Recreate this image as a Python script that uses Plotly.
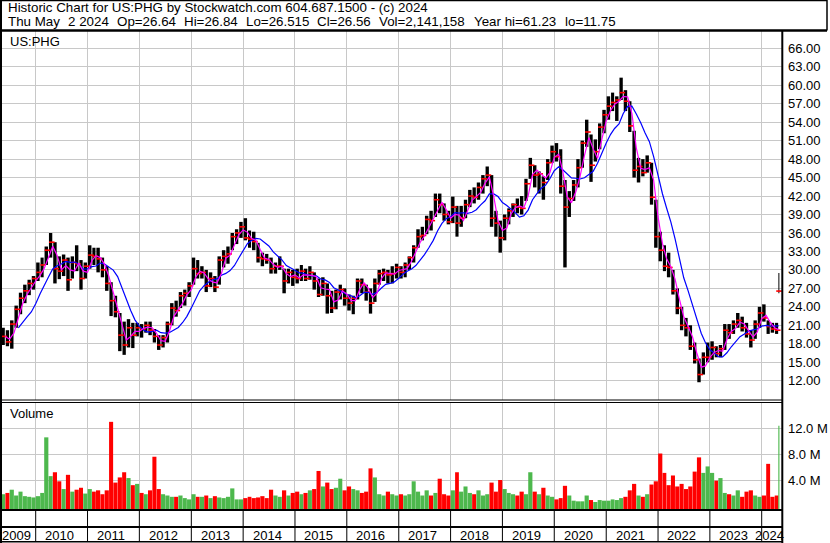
import pandas as pd
import plotly.graph_objects as go

# ---------------- data (monthly, May 2009 .. Apr 2024, plus the final Apr 29 - May 2 2024 gap) ----------------
high = [
    20.6, 20.2, 21.8, 24.2, 26.3, 27.6, 28.4, 29.0,                          # 2009 May-Dec
    31.2, 32.0, 33.8, 36.0, 34.5, 32.2, 32.5, 32.0, 32.2, 34.0, 31.6, 31.2,  # 2010
    34.0, 33.6, 33.6, 32.0, 30.6, 28.0, 25.8, 23.0, 21.6, 22.0, 21.4, 21.4,  # 2011
    21.2, 21.6, 21.6, 20.4, 19.4, 19.4, 21.6, 24.6, 25.0, 26.4, 26.8, 28.0,  # 2012
    32.0, 31.6, 30.6, 30.0, 29.6, 29.0, 32.2, 33.2, 33.8, 36.0, 36.6, 37.8,  # 2013
    38.4, 36.4, 36.2, 34.4, 32.8, 32.6, 32.0, 31.2, 32.2, 30.2, 30.2, 30.0,  # 2014
    30.2, 30.8, 30.2, 30.6, 29.6, 28.6, 28.8, 27.8, 26.6, 26.8, 27.6, 27.0,  # 2015
    26.0, 25.8, 28.6, 28.6, 27.6, 27.0, 28.6, 30.0, 30.2, 30.0, 30.6, 31.0,  # 2016
    30.6, 31.2, 32.2, 34.0, 36.6, 37.0, 38.8, 39.6, 42.4, 42.4, 40.8, 39.6,  # 2017
    41.9, 40.4, 40.4, 41.4, 43.0, 43.4, 44.2, 45.4, 46.8, 45.4, 39.6, 38.0,  # 2018
    39.0, 40.0, 40.8, 41.6, 42.0, 44.8, 48.2, 47.0, 46.0, 45.2, 48.0, 50.2,  # 2019
    50.6, 49.6, 44.6, 42.8, 44.6, 48.0, 51.0, 54.4, 52.0, 51.2, 53.8, 56.0,  # 2020
    58.2, 58.8, 58.2, 61.23, 59.2, 57.4, 52.6, 48.2, 48.0, 48.6, 47.4, 41.4, # 2021
    36.2, 34.0, 32.8, 30.0, 27.0, 24.0, 22.2, 21.0, 18.2, 15.6, 16.6, 18.2,  # 2022
    18.4, 17.6, 17.8, 21.2, 21.2, 21.8, 23.0, 22.4, 21.4, 20.2, 21.8, 24.0,  # 2023
    24.4, 21.8, 21.4, 21.4, 29.5,                                            # 2024
]
low = [
    17.8, 17.6, 17.2, 20.6, 22.8, 24.6, 25.9, 26.8,
    28.2, 28.8, 30.8, 32.0, 27.8, 28.5, 29.0, 26.6, 28.6, 29.8, 26.8, 28.6,
    30.2, 30.8, 29.6, 28.8, 26.6, 22.5, 22.3, 16.8, 16.2, 17.4, 17.3, 19.2,
    19.0, 19.8, 19.4, 18.2, 17.0, 17.4, 18.2, 21.0, 22.4, 23.8, 24.2, 25.6,
    27.6, 28.6, 28.6, 26.4, 27.2, 26.4, 27.6, 30.4, 31.0, 33.2, 34.2, 35.2,
    34.8, 33.6, 33.2, 31.2, 30.6, 31.0, 29.4, 29.4, 30.0, 26.2, 27.8, 27.4,
    27.8, 28.2, 28.2, 28.4, 26.8, 25.6, 25.8, 22.9, 23.0, 23.6, 25.2, 24.2,
    23.4, 22.8, 25.2, 26.2, 25.0, 22.9, 24.8, 27.6, 28.2, 27.8, 27.8, 28.6,
    28.6, 28.8, 30.0, 31.2, 33.6, 34.8, 35.8, 36.4, 38.6, 39.2, 38.0, 37.4,
    37.6, 35.4, 37.0, 38.4, 40.2, 40.8, 41.4, 42.4, 43.6, 37.0, 35.4, 32.8,
    34.8, 37.4, 38.6, 39.2, 39.0, 41.2, 44.8, 43.4, 42.4, 41.4, 44.6, 47.4,
    47.6, 42.4, 30.4, 38.6, 41.2, 43.4, 46.6, 50.0, 44.3, 47.6, 49.6, 52.2,
    54.4, 55.8, 54.2, 57.6, 55.8, 52.4, 45.0, 44.2, 45.2, 45.8, 40.6, 33.6,
    31.4, 29.8, 28.8, 26.0, 22.8, 20.2, 19.2, 17.0, 14.8, 11.75, 13.0, 15.0,
    15.4, 15.8, 15.8, 17.0, 18.8, 19.6, 20.6, 20.0, 19.0, 17.4, 18.8, 20.6,
    21.6, 19.6, 19.8, 19.6, 26.2,
]
close = [
    19.2, 18.3, 21.2, 23.6, 25.4, 26.6, 27.8, 28.6,
    29.6, 30.8, 33.2, 34.5, 30.2, 29.8, 31.6, 28.4, 31.2, 31.0, 28.6, 30.6,
    32.4, 32.2, 31.8, 30.0, 27.8, 25.0, 23.2, 19.4, 17.8, 20.6, 19.4, 20.6,
    20.4, 21.0, 20.2, 19.2, 17.8, 19.0, 21.2, 23.8, 23.4, 25.8, 26.2, 27.4,
    30.2, 29.4, 29.6, 27.4, 28.6, 27.2, 31.6, 32.2, 32.6, 35.4, 36.0, 37.0,
    35.2, 35.0, 34.6, 32.0, 31.8, 31.6, 30.2, 30.6, 30.6, 28.2, 29.6, 28.8,
    28.6, 29.8, 28.6, 29.6, 28.2, 26.0, 27.8, 25.8, 23.8, 26.4, 26.8, 25.4,
    24.6, 25.4, 28.2, 27.6, 26.4, 24.6, 27.8, 29.4, 29.6, 29.2, 29.4, 30.4,
    29.6, 30.8, 32.0, 33.6, 35.4, 35.6, 38.2, 38.0, 41.4, 40.6, 39.0, 37.8,
    40.2, 37.6, 38.4, 40.6, 42.0, 41.8, 43.4, 44.8, 45.4, 38.4, 37.6, 35.2,
    38.4, 39.6, 40.6, 40.2, 40.0, 44.0, 47.0, 45.4, 45.6, 44.2, 47.4, 49.2,
    48.4, 43.6, 40.2, 41.6, 43.8, 46.6, 50.6, 52.4, 47.0, 49.2, 53.2, 55.2,
    56.6, 57.2, 57.6, 58.8, 57.4, 53.4, 46.2, 46.8, 45.8, 47.4, 41.8, 35.4,
    33.2, 30.6, 30.4, 26.6, 23.8, 21.0, 20.6, 17.6, 15.4, 13.0, 15.8, 15.8,
    17.4, 16.4, 17.2, 20.2, 19.8, 21.2, 21.8, 20.6, 19.6, 18.6, 21.2, 23.0,
    22.2, 20.8, 20.4, 20.2, 26.56,
]
volume_m = [
    1.8, 2.0, 2.5, 1.6, 2.2, 1.5, 1.4, 1.3,
    1.5, 2.0, 10.6, 4.6, 5.2, 3.8, 2.6, 4.8, 2.2, 2.5, 2.8, 1.9,
    2.6, 2.2, 2.4, 1.8, 2.4, 13.0, 3.6, 4.4, 5.2, 4.3, 3.2, 3.4,
    2.0, 1.8, 2.4, 7.6, 2.6, 1.8, 1.6, 1.4, 1.4, 1.6, 1.2, 1.0,
    1.8, 1.4, 1.4, 1.6, 1.2, 1.5, 1.3, 1.2, 1.4, 2.7, 1.0, 1.0,
    1.2, 1.4, 1.2, 1.3, 1.5, 1.2, 2.5, 1.6, 1.4, 2.4, 1.6, 2.0,
    2.2, 1.8, 2.0, 2.4, 2.6, 5.4, 3.0, 3.6, 2.6, 2.8, 4.2, 2.4,
    3.0, 2.6, 2.4, 2.0, 2.2, 5.8, 4.4, 1.8, 1.6, 2.2, 1.8, 1.6,
    1.8, 1.6, 1.8, 3.8, 2.2, 1.6, 2.4, 1.6, 2.0, 4.2, 1.8, 1.6,
    2.4, 5.2, 2.2, 3.0, 2.0, 1.8, 2.4, 1.6, 1.8, 3.6, 2.2, 4.0,
    2.6, 2.0, 1.8, 1.6, 2.2, 1.8, 5.2, 2.2, 1.8, 2.8, 1.6, 1.4,
    1.0, 1.2, 3.1, 1.6, 0.8, 0.7, 0.7, 1.6, 0.9, 0.6, 0.9, 0.8,
    0.8, 1.0, 0.9, 1.2, 1.4, 2.4, 3.4, 1.6, 1.4, 1.8, 3.3, 3.8,
    8.1, 5.1, 3.2, 4.7, 3.0, 3.4, 2.6, 3.0, 5.3, 7.5, 5.1, 6.1,
    5.1, 3.9, 4.3, 2.0, 1.8, 1.6, 2.4, 1.4, 2.2, 2.4, 1.6, 1.4,
    1.6, 6.5, 1.4, 1.6, 12.4,
]
# period starts: one per month, then the last few days after the April 2024 gap
period_start = list(pd.date_range("2009-05-01", "2024-04-01", freq="MS")) + [pd.Timestamp("2024-04-29")]
period_end = period_start[1:] + [pd.Timestamp("2024-05-03")]

price_ticks = [12, 15, 18, 21, 24, 27, 30, 33, 36, 39, 42, 45, 48, 51, 54, 57, 60, 63, 66]
price_tick_text = ["12.00", "15.00", "18.00", "21.00", "24.00", "27.00", "30.00", "33.00", "36.00",
                   "39.00", "42.00", "45.00", "48.00", "51.00", "54.00", "57.00", "60.00", "63.00", "66.00"]
volume_ticks = [4, 8, 12]
volume_tick_text = ["4.0 M", "8.0 M", "12.0 M"]
year_labels = ["2009", "2010", "2011", "2012", "2013", "2014", "2015", "2016",
               "2017", "2018", "2019", "2020", "2021", "2022", "2023", "2024"]
title_line1 = "Historic Chart for US:PHG by Stockwatch.com 604.687.1500 - (c) 2024"
title_line2_parts = ["Thu May", "2 2024", "Op=26.64", "Hi=26.84", "Lo=26.515", "Cl=26.56",
                     "Vol=2,141,158", "Year hi=61.23", "lo=11.75"]
symbol_label = "US:PHG"

# ---------------- derived ----------------
df = pd.DataFrame({"start": period_start, "end": period_end, "high": high, "low": low,
                   "close": close, "vol": volume_m})
span = df["end"] - df["start"]
df["center"] = df["start"] + span / 2
day_ms = 86400000.0
df["bar_w"] = [max(s.total_seconds() * 1000 * 0.78, 7 * day_ms) for s in span]
df["vol_w"] = [max(s.total_seconds() * 1000 * 0.95, 8 * day_ms) for s in span]
df["tick_x"] = df["start"] + span * 0.78
prev_close = df["close"].shift(1).fillna(df["close"])
df["up"] = df["close"] >= prev_close
monthly = df.iloc[:-1]
ma_fast = monthly["close"].rolling(2, min_periods=1).mean()
ma_slow = monthly["close"].rolling(7, min_periods=4).mean()

# ---------------- geometry ----------------
W, H = 830, 543
ML, MR, MT, MB = 2, 48, 31, 34
PW, PH = W - ML - MR, H - MT - MB


def px(x):
    return (x - ML) / PW


def py(y):
    return (H - MB - y) / PH


x_range = ["2009-05-08 16:00", "2024-05-23"]
x_lo, x_hi = pd.Timestamp(x_range[0]), pd.Timestamp(x_range[1])
year_bounds = [pd.Timestamp(f"{y}-01-01") for y in range(2010, 2025)]
price_range = [8.865, 68.81]
vol_range = [-0.487, 16.07]
GRID = "#C8C8C8"
FONT = "Liberation Sans, Arial, sans-serif"

fig = go.Figure()

# price range bars
fig.add_trace(go.Bar(x=df["center"], base=df["low"], y=df["high"] - df["low"], width=df["bar_w"],
                     marker=dict(color="black", line=dict(width=0)), xaxis="x2", yaxis="y",
                     showlegend=False, hoverinfo="skip"))
# close ticks
fig.add_trace(go.Scatter(x=df["tick_x"], y=df["close"], mode="markers", xaxis="x2", yaxis="y",
                         marker=dict(symbol="line-ew", size=4, color="red", line=dict(width=1.6, color="red")),
                         showlegend=False, hoverinfo="skip"))
# moving averages
fig.add_trace(go.Scatter(x=monthly["end"], y=ma_slow, mode="lines", xaxis="x2", yaxis="y",
                         line=dict(color="#0000FF", width=1.2), showlegend=False, hoverinfo="skip"))
fig.add_trace(go.Scatter(x=monthly["end"], y=ma_fast, mode="lines", xaxis="x2", yaxis="y",
                         line=dict(color="#FF00FF", width=1.2), showlegend=False, hoverinfo="skip"))
# volume
vol_colors = ["#4DB84D" if u else "#FF0000" for u in df["up"]]
fig.add_trace(go.Bar(x=df["center"], base=vol_range[0], y=df["vol"] - vol_range[0], width=df["vol_w"],
                     marker=dict(color=vol_colors, line=dict(width=0)), xaxis="x", yaxis="y2",
                     showlegend=False, hoverinfo="skip"))

axis_common = dict(type="date", range=x_range, showgrid=True, gridcolor=GRID, gridwidth=1,
                   tickvals=year_bounds, showticklabels=False, ticks="", zeroline=False,
                   showline=False, fixedrange=True)

fig.update_layout(
    width=W, height=H, autosize=False,
    margin=dict(l=ML, r=MR, t=MT, b=MB, pad=0),
    paper_bgcolor="white", plot_bgcolor="white",
    barmode="overlay", showlegend=False,
    font=dict(family=FONT, size=13, color="black"),
    xaxis=dict(domain=[0, 1], anchor="y2", **axis_common),
    xaxis2=dict(domain=[0, 1], anchor="y", matches="x", **axis_common),
    yaxis=dict(domain=[py(400), 1], anchor="x2", side="right", range=price_range,
               tickvals=price_ticks, ticktext=price_tick_text, showgrid=True, gridcolor=GRID,
               gridwidth=1, ticks="", zeroline=False, showline=False, ticklabelstandoff=5,
               tickfont=dict(family=FONT, size=13, color="black"), fixedrange=True),
    yaxis2=dict(domain=[0, py(402)], anchor="x", side="right", range=vol_range,
                tickvals=volume_ticks, ticktext=volume_tick_text, showgrid=True, gridcolor=GRID,
                gridwidth=1, ticks="", zeroline=False, showline=False, ticklabelstandoff=5,
                tickfont=dict(family=FONT, size=13, color="black"), fixedrange=True),
)

shapes = []


def hline(y, x0, x1, w=1):
    shapes.append(dict(type="line", xref="paper", yref="paper", x0=px(x0), x1=px(x1), y0=py(y), y1=py(y),
                       line=dict(color="black", width=w), layer="above"))


def vline(x, y0, y1, w=1):
    shapes.append(dict(type="line", xref="paper", yref="paper", x0=px(x), x1=px(x), y0=py(y0), y1=py(y1),
                       line=dict(color="black", width=w), layer="above"))


hline(0.5, 0, 827, 1.5)       # top of title box
vline(827, 0, 30.5, 1.5)      # right of title box
hline(30.5, 0, 827, 2.5)      # under title
vline(1, 0, 543, 2)           # left border
vline(782.3, 30, 543, 2)      # right axis line
hline(400, 0, 782, 1)         # price panel bottom
hline(402.5, 0, 782, 1)       # volume panel top
hline(510, 0, 782, 2)         # volume panel bottom
hline(527, 0, 782, 2)         # date strip divider
hline(541.8, 0, 782, 1.5)     # bottom border
for yb in year_bounds:
    shapes.append(dict(type="line", xref="x", yref="paper", x0=yb, x1=yb, y0=py(510), y1=py(542),
                       line=dict(color="black", width=1), layer="above"))

TFONT = dict(family=FONT, size=13.35, color="black")
annotations = [
    dict(text=title_line1, xref="paper", yref="paper", x=px(6), y=py(7.5), xanchor="left", yanchor="middle",
         showarrow=False, font=TFONT),
    dict(text=symbol_label, xref="paper", yref="paper", x=px(8), y=py(41.7), xanchor="left", yanchor="middle",
         showarrow=False, font=dict(family=FONT, size=13, color="black")),
    dict(text="Volume", xref="paper", yref="paper", x=px(8), y=py(413), xanchor="left", yanchor="middle",
         showarrow=False, font=dict(family=FONT, size=13, color="black")),
]
line2_x = [6, 65.5, 114.5, 181.5, 243.5, 315, 377, 471.5, 563]
for txt, xx in zip(title_line2_parts, line2_x):
    annotations.append(dict(text=txt, xref="paper", yref="paper", x=px(xx), y=py(21.5), xanchor="left",
                            yanchor="middle", showarrow=False, font=TFONT))

seg_edges = [x_lo] + year_bounds + [x_hi]
for i, lab in enumerate(year_labels):
    a, b = seg_edges[i], seg_edges[i + 1]
    c = a + (b - a) / 2 - pd.Timedelta(days=14)
    annotations.append(dict(text=lab, xref="x", yref="paper", x=c, y=py(535), xanchor="center",
                            yanchor="middle", showarrow=False, font=dict(family=FONT, size=13, color="black")))

fig.update_layout(shapes=shapes, annotations=annotations)

fig.write_html("out.html", config={"staticPlot": True},
               post_script="document.body.style.margin='0';document.body.style.padding='0';")
